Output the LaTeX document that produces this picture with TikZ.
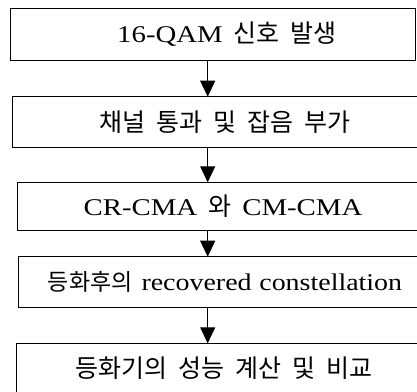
\documentclass[tikz,border=0pt]{standalone}
\usepackage{fontspec}
\setmainfont[FakeStretch=1.2]{Liberation Serif}
\newfontfamily\krfont{Noto Sans CJK KR}
\usetikzlibrary{arrows.meta}
\newcommand{\K}[1]{{\krfont\fontsize{25}{26}\selectfont #1}}
\newcommand{\Ks}[1]{{\krfont\fontsize{23}{26}\selectfont #1}}
\newcommand{\gp}{\hspace{11pt}}
\begin{document}
\begin{tikzpicture}[x=1pt,y=-1pt,
  box/.style={draw, line width=1pt, rectangle, inner sep=0pt, outer sep=0pt, anchor=north west},
  lbl/.style={inner sep=0pt, font=\fontsize{24}{26}\selectfont},
  arr/.style={draw, line width=1pt, -{Triangle[length=16pt,width=15pt]}}]
\useasboundingbox (0,0) rectangle (417,391);
\clip (0,0) rectangle (417,391);
\node[box, minimum width=404.6pt, minimum height=51.7pt] (b1) at (10.7,8.3) {};
\node[box, minimum width=412pt, minimum height=51pt] (b2) at (12.3,96.7) {};
\node[box, minimum width=407pt, minimum height=48.4pt] (b3) at (17.3,182.3) {};
\node[box, minimum width=406pt, minimum height=50.6pt] (b4) at (18.3,256.7) {};
\node[box, minimum width=408pt, minimum height=50pt] (b5) at (16.7,343.3) {};
\node[lbl] (t1) at (227,34.2) {16-QAM\gp\K{신호}\gp\K{발생}};
\node[lbl] (t2) at (225,122.2) {\K{채널}\gp\K{통과}\gp\K{및}\gp\K{잡음}\gp\K{부가}};
\node[lbl] (t3) at (223,206.5) {CR-CMA\gp\K{와}\gp CM-CMA};
\node[lbl] (t4) at (225,282) {\Ks{등화후의}\hspace{9pt}\scalebox{0.97}[1]{recovered\hspace{8pt}constellation}};
\node[lbl] (t5) at (224,368) {\K{등화기의}\gp\K{성능}\gp\K{계산}\gp\K{및}\gp\K{비교}};
\coordinate (ax) at (207.7,0);
\draw[arr] (b1.south -| ax) -- (b2.north -| ax);
\draw[arr] (b2.south -| ax) -- (b3.north -| ax);
\draw[arr] (b3.south -| ax) -- (b4.north -| ax);
\draw[arr] (b4.south -| ax) -- (b5.north -| ax);
\end{tikzpicture}
\end{document}
